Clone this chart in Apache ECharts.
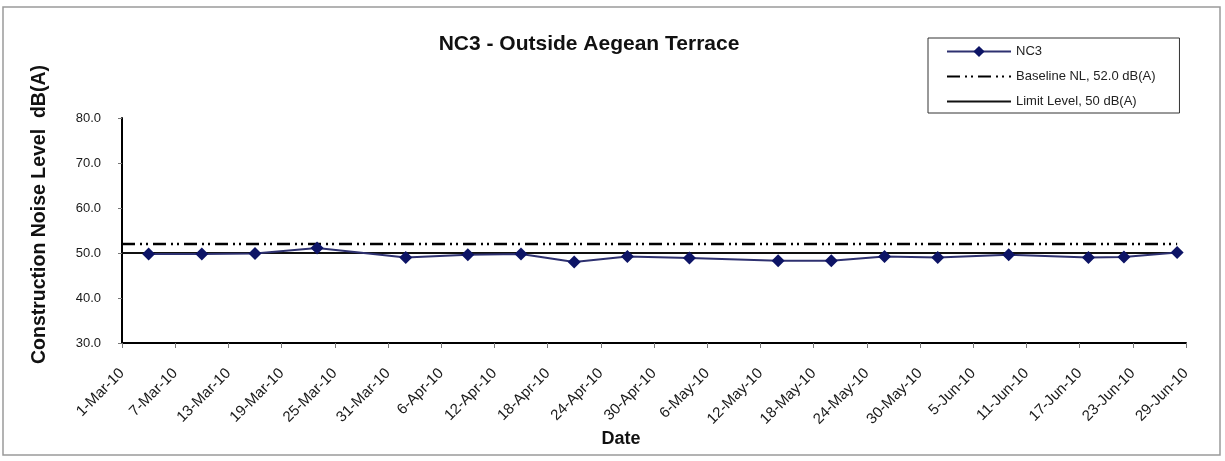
<!DOCTYPE html>
<html>
<head>
<meta charset="utf-8">
<script src="https://cdn.jsdelivr.net/npm/echarts@6/dist/echarts.min.js"></script>
<style>
  html, body { margin: 0; padding: 0; background: #fff; }
  #noiseChart { width: 1225px; height: 461px; }
</style>
</head>
<body>
<div id="noiseChart"></div>
<script>
// monitoring dates and measured Leq, dB(A)
var dates = ['2010-03-04', '2010-03-10', '2010-03-16', '2010-03-23', '2010-04-02', '2010-04-09',
  '2010-04-15', '2010-04-21', '2010-04-27', '2010-05-04', '2010-05-14', '2010-05-20',
  '2010-05-26', '2010-06-01', '2010-06-09', '2010-06-18', '2010-06-22', '2010-06-28']
var nc3 = [49.8, 49.8, 49.9, 51.1, 49.0, 49.6, 49.8, 48.0, 49.2, 48.9, 48.3, 48.3,
  49.2, 49.0, 49.6, 49.0, 49.1, 50.1]
var baselineNL = 52.0
var limitLevel = 50
var startDate = '2010-03-01'
var endDate = '2010-06-29'
var months = ['Jan', 'Feb', 'Mar', 'Apr', 'May', 'Jun', 'Jul', 'Aug', 'Sep', 'Oct', 'Nov', 'Dec']

var DAY = 86400000
var t0 = Date.parse(startDate)
function dayOf(d) {
  return Math.round((Date.parse(d) - t0) / DAY)
}
var lastDay = dayOf(endDate)

var chart = echarts.init(document.getElementById('noiseChart'))
chart.setOption({
  animation: false,
  textStyle: { fontFamily: 'Liberation Sans, Arial, sans-serif' },
  graphic: [{
    type: 'rect',
    shape: { x: 3, y: 7, width: 1217, height: 448 },
    style: { fill: 'none', stroke: '#9a9a9a', lineWidth: 1.5 },
    silent: true
  }],
  title: {
    text: 'NC3 - Outside Aegean Terrace',
    left: 584,
    textAlign: 'center',
    top: 29,
    textStyle: { fontSize: 21, fontWeight: 'bold', color: '#111' }
  },
  legend: {
    left: 928,
    top: 38,
    orient: 'vertical',
    itemWidth: 64,
    itemHeight: 14,
    itemGap: 12,
    padding: [7, 24, 5, 18],
    borderColor: '#333',
    borderWidth: 1,
    textStyle: { fontSize: 13, color: '#222' },
    data: [
      'NC3',
      { name: 'Baseline NL, 52.0 dB(A)', itemStyle: { opacity: 0 } },
      { name: 'Limit Level, 50 dB(A)', itemStyle: { opacity: 0 } }
    ]
  },
  grid: { left: 122, right: 39, top: 118, bottom: 118 },
  xAxis: {
    type: 'value',
    min: 0,
    max: lastDay,
    interval: 6,
    name: 'Date',
    nameLocation: 'middle',
    nameGap: 85,
    nameTextStyle: { fontSize: 18, fontWeight: 'bold', color: '#111', padding: [0, 66, 0, 0] },
    axisLine: { lineStyle: { color: '#000', width: 2 } },
    axisTick: { length: 5, lineStyle: { color: '#777' } },
    splitLine: { show: false },
    axisLabel: {
      rotate: 45,
      fontSize: 15,
      color: '#1a1a1a',
      margin: 28,
      formatter: function (v) {
        var d = new Date(t0 + v * DAY)
        return d.getUTCDate() + '-' + months[d.getUTCMonth()] + '-' + String(d.getUTCFullYear()).slice(2)
      }
    }
  },
  yAxis: {
    type: 'value',
    min: 30,
    max: 80,
    interval: 10,
    name: 'Construction Noise Level  dB(A)',
    nameLocation: 'middle',
    nameGap: 72,
    nameTextStyle: { fontSize: 19.5, fontWeight: 'bold', color: '#111', padding: [0, 0, 0, 32] },
    axisLine: { show: true, lineStyle: { color: '#000', width: 2 } },
    axisTick: { show: true, length: 4, lineStyle: { color: '#777' } },
    splitLine: { show: false },
    axisLabel: {
      fontSize: 13,
      color: '#1a1a1a',
      margin: 21,
      formatter: function (v) { return v.toFixed(1) }
    }
  },
  series: [
    {
      name: 'Baseline NL, 52.0 dB(A)',
      type: 'line',
      showSymbol: false,
      symbol: 'none',
      lineStyle: { color: '#000', width: 2.5, type: [13, 5, 2, 4, 2, 5] },
      itemStyle: { color: '#000' },
      data: [[0, baselineNL], [lastDay - 1, baselineNL]]
    },
    {
      name: 'Limit Level, 50 dB(A)',
      type: 'line',
      showSymbol: false,
      symbol: 'none',
      lineStyle: { color: '#111', width: 2 },
      itemStyle: { color: '#111' },
      data: [[0, limitLevel], [lastDay - 1, limitLevel]]
    },
    {
      name: 'NC3',
      type: 'line',
      symbol: 'diamond',
      symbolSize: 13,
      lineStyle: { color: '#2e3170', width: 2 },
      itemStyle: { color: '#0d1466' },
      data: dates.map(function (d, i) { return [dayOf(d), nc3[i]] })
    }
  ]
})
</script>
</body>
</html>
